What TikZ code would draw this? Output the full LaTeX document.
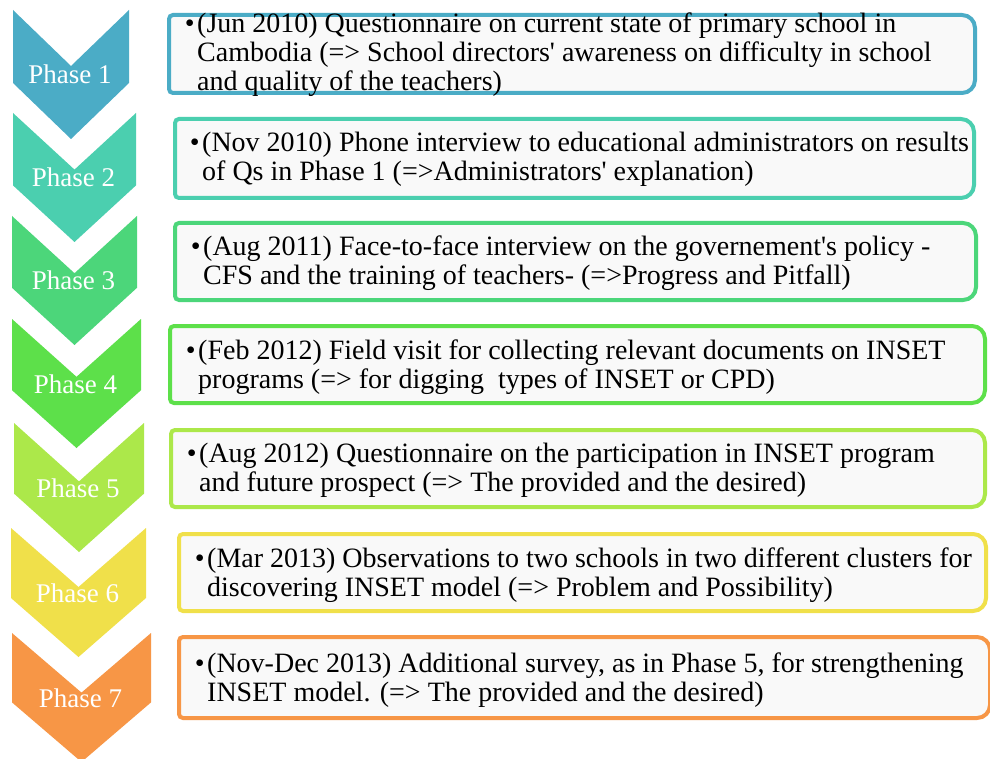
\documentclass[tikz,border=0pt]{standalone}
\usepackage{fontspec}
\setmainfont{Liberation Serif}
\definecolor{c1}{HTML}{4BACC6}
\definecolor{c2}{HTML}{4BCFAF}
\definecolor{c3}{HTML}{4CD67A}
\definecolor{c4}{HTML}{5DE04A}
\definecolor{c5}{HTML}{ACE84A}
\definecolor{c6}{HTML}{F0E04A}
\definecolor{c7}{HTML}{F79646}
\definecolor{boxfill}{HTML}{F9F9F9}
\newcommand\qt{\textquotesingle}
\newcommand\phasebox[9]{%
  \pgfmathsetmacro\bw{#4-#2-4}\pgfmathsetmacro\bh{#5-#3-4}%
  \node[boxph, minimum width=\bw pt, minimum height=\bh pt, anchor=north west] (b#1) at (#2+2,#3+2) {};
  \filldraw[fill=boxfill, draw=#6, line width=4pt]
    (b#1.west) [rounded corners=4pt] -- (b#1.north west) -- (b#1.north)
    [rounded corners=13pt] -- (b#1.north east) -- (b#1.south east) -- (b#1.south)
    [rounded corners=4pt] -- (b#1.south west) -- cycle;
  \node[txt, anchor=base west] (t#1) at (#7,#8) {#9};
}
\newcommand\chev[5]{% k, L, R, T, col
  \pgfmathsetmacro\cx{(#2+#3)/2}\pgfmathsetmacro\dd{56+(#1-1)*0.6}%
  \fill[#5] (#2,#4) -- (\cx,#4+\dd) -- (#3,#4) -- (#3,#4+129-\dd) -- (\cx,#4+129) -- (#2,#4+129-\dd) -- cycle;
  \node[phlbl, anchor=base] (p#1) at (\cx-1,#4+74) {Phase #1};
}
\begin{document}
\begin{tikzpicture}[x=1pt,y=-1pt,
  boxph/.style={inner sep=0pt, outer sep=0pt, draw=none},
  txt/.style={inner sep=0pt, align=left, font=\fontsize{28}{29}\selectfont},
  phlbl/.style={inner sep=0pt, text=white, font=\fontsize{27}{29}\selectfont}]
\useasboundingbox (0,0) rectangle (990,759);
\clip (0,0) rectangle (990,759);
\fill[white] (0,0) rectangle (990,759);

\chev{1}{13}{129}{10}{c1}
\chev{2}{13}{136}{113}{c2}
\chev{3}{12}{137}{216}{c3}
\chev{4}{12}{141}{319}{c4}
\chev{5}{14}{144}{423}{c5}
\chev{6}{11}{146}{528}{c6}
\chev{7}{12}{151}{633}{c7}

\phasebox{1}{167}{13}{977}{95}{c1}{197}{91}{\llap{•\hspace{2.5pt}}(Jun 2010) Questionnaire on current state of primary school in\\Cambodia (=> School directors\qt{} awareness on difficulty in school\\and quality of the teachers)}
\phasebox{2}{173}{117}{976}{200}{c2}{202}{181}{\llap{•\hspace{2.5pt}}(Nov 2010) Phone interview to educational administrators on results\\of Qs in Phase 1 (=>Administrators\qt{} explanation)}
\phasebox{3}{173}{221}{978}{302}{c3}{203}{284}{\llap{•\hspace{2.5pt}}(Aug 2011) Face-to-face interview on the governement\qt{}s policy -\\CFS and the training of teachers- (=>Progress and Pitfall)}
\phasebox{4}{168}{324}{987}{405}{c4}{198}{388}{\llap{•\hspace{2.5pt}}(Feb 2012) Field visit for collecting relevant documents on INSET\\programs (=> for digging\ \ types of INSET or CPD)}
\phasebox{5}{169}{428}{987}{509}{c5}{199}{491}{\llap{•\hspace{2.5pt}}(Aug 2012) Questionnaire on the participation in INSET program\\and future prospect (=> The provided and the desired)}
\phasebox{6}{177}{532}{988}{613}{c6}{207}{596}{\llap{•\hspace{2.5pt}}(Mar 2013) Observations to two schools in two different clusters for\\discovering INSET model (=> Problem and Possibility)}
\phasebox{7}{177}{635}{992}{720}{c7}{207}{701}{\llap{•\hspace{2.5pt}}(Nov-Dec 2013) Additional survey, as in Phase 5, for strengthening\\INSET model. (=> The provided and the desired)}
\end{tikzpicture}
\end{document}
